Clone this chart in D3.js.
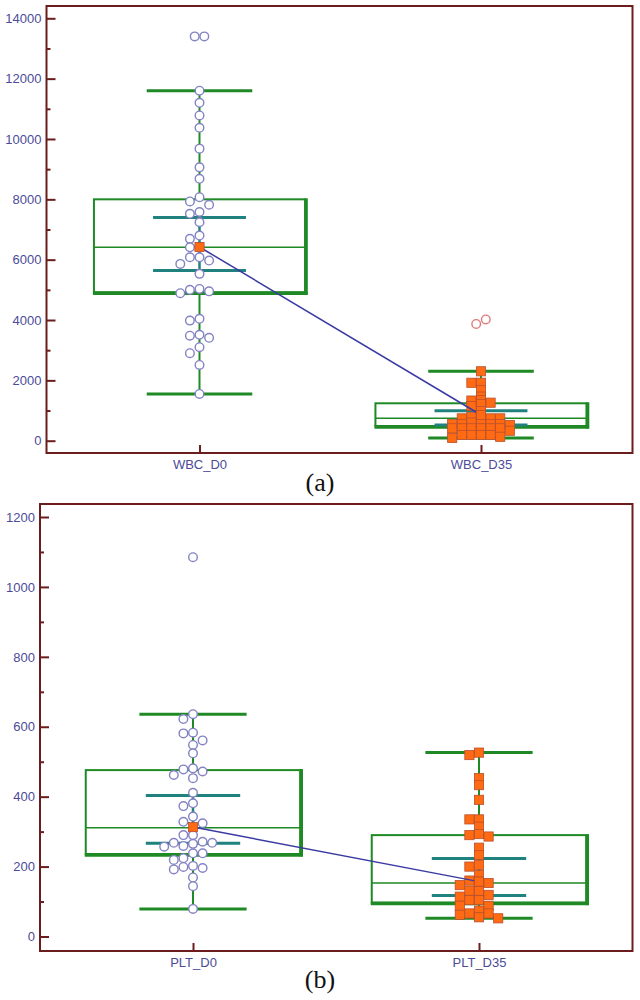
<!DOCTYPE html>
<html>
<head>
<meta charset="utf-8">
<script src="https://cdn.jsdelivr.net/npm/d3@7"></script>
<style>
  body { margin: 0; background: #fff; }
</style>
</head>
<body>
<div id="chart"></div>
<script>
// ---------- values ----------
// (a) white blood cells
var wbcCategories = ["WBC_D0", "WBC_D35"];
var wbcTicks = [0, 2000, 4000, 6000, 8000, 10000, 12000, 14000];
var wbcMinorTicks = [1000, 3000, 5000, 7000, 9000, 11000, 13000];
var wbcD0 = [11600, 11200, 10780, 10370, 9680, 9060, 8680, 8070, 7930, 7820, 7580, 7520,
             7240, 6800, 6690, 6410, 6410, 6080, 6080, 5970, 5860, 5530, 5030, 5000, 4950,
             4890, 4040, 3980, 3510, 3480, 3410, 3100, 2900, 2510, 1550];
var wbcD35 = [2300, 1920, 1920, 1680, 1460, 1350, 1330, 1260, 1220, 1150, 980, 800, 790,
              740, 740, 740, 600, 600, 550, 550, 550, 550, 520, 410, 410, 410, 410, 410,
              410, 330, 190, 190, 190, 190, 130, 90];
var wbcOutliersD0 = [13400, 13400];
var wbcOutliersD35 = [3870, 4020];
var wbcLow = [1550, 90];
var wbcQ1 = [4920, 487];
var wbcMedian = [6410, 742];
var wbcQ3 = [8000, 1240];
var wbcHigh = [11600, 2300];
var wbcMean = [6420, 852];
var wbcCiLow = [5640, 520];
var wbcCiHigh = [7400, 994];

// (b) platelets
var pltCategories = ["PLT_D0", "PLT_D35"];
var pltTicks = [0, 200, 400, 600, 800, 1000, 1200];
var pltMinorTicks = [100, 300, 500, 700, 900, 1100];
var pltD0 = [636, 622, 583, 581, 561, 548, 524, 481, 478, 472, 462, 453, 411, 381, 373, 343,
             328, 324, 290, 290, 271, 268, 268, 265, 259, 257, 238, 238, 224, 219, 202, 199,
             196, 192, 169, 144, 79];
var pltD35 = [526, 519, 453, 433, 391, 335, 335, 314, 293, 290, 286, 254, 233, 205, 200, 176,
              160, 157, 153, 147, 131, 131, 119, 114, 104, 104, 88, 88, 74, 66, 66, 62, 55, 52];
var pltOutliersD0 = [1085];
var pltOutliersD35 = [];
var pltLow = [79, 52];
var pltQ1 = [236, 97];
var pltMedian = [311, 153];
var pltQ3 = [476, 290];
var pltHigh = [636, 526];
var pltMean = [313, 157];
var pltCiLow = [267, 117];
var pltCiHigh = [403, 223];

// ---------- colours ----------
var frameColor = "#6b1c1c";
var labelColor = "#4b4b99";
var green = "#1f8a25";
var teal = "#20827e";
var navy = "#3a3aa3";
var lavender = "#8383c4";
var orange = "#ff6a12";
var orangeEdge = "#b9502e";
var pink = "#e07a7a";

var svg = d3.select("#chart")
  .append("svg")
    .attr("width", 640)
    .attr("height", 1000)
    .style("background", "#fff");

// dot-plot layout: push points sideways until they stop overlapping
// rowTol = how close two points may sit vertically before they count as one row
function swarm(values, y, d, rowTol) {
  var placed = [];
  values.map(function(v) { return {v: v, py: y(v)}; })
    .sort(function(a, b) { return a.py - b.py; })
    .forEach(function(p) {
      for (var k = 0; k < 40; k++) {
        var off = (k % 2 ? -1 : 1) * Math.ceil(k / 2);   // 0, -1, 1, -2, 2 ...
        var px = off * d;
        var hit = placed.some(function(q) {
          return Math.abs(q.px - px) < d * 0.92 && Math.abs(q.py - p.py) < rowTol;
        });
        if (!hit) { p.px = px; break; }
      }
      placed.push(p);
    });
  return placed;
}

function drawPanel(p) {
  var g = svg.append("g");
  var y = d3.scaleLinear().domain([0, p.ticks[p.ticks.length - 1]]).range(p.yRange);
  var x = d3.scalePoint().domain(p.categories).range(p.xRange).padding(0.5);
  var step = x.step();

  // frame
  g.append("rect")
    .attr("x", p.frame.l).attr("y", p.frame.t)
    .attr("width", p.frame.r - p.frame.l)
    .attr("height", p.frame.b - p.frame.t)
    .attr("fill", "none")
    .attr("stroke", frameColor)
    .attr("stroke-width", 2);

  // y axis, ticks point inward
  var yAxis = g.append("g")
    .attr("transform", "translate(" + p.frame.l + ",0)")
    .call(d3.axisLeft(y).tickValues(p.ticks).tickSize(-9).tickPadding(5)
            .tickFormat(d3.format("d")));
  var yMinor = g.append("g")
    .attr("transform", "translate(" + p.frame.l + ",0)")
    .call(d3.axisLeft(y).tickValues(p.minor).tickSize(-4).tickFormat(""));

  // x axis
  var xAxis = g.append("g")
    .attr("transform", "translate(0," + p.frame.b + ")")
    .call(d3.axisBottom(x).tickSize(-8).tickPadding(7));

  [yAxis, yMinor, xAxis].forEach(function(a) {
    a.select(".domain").remove();
    a.selectAll("line").attr("stroke", frameColor).attr("stroke-width", 2);
    a.selectAll("text")
      .attr("fill", labelColor)
      .style("font-family", "'Liberation Sans', Arial, sans-serif")
      .style("font-size", "13px");
  });

  var boxW = step * 0.75, capW = step * 0.375, ciW = step * 0.33;

  p.categories.forEach(function(c, i) {
    var cx = x(c);
    var bx = g.append("g");
    // whiskers
    bx.append("line").attr("x1", cx).attr("x2", cx)
      .attr("y1", y(p.low[i])).attr("y2", y(p.q1[i]))
      .attr("stroke", green).attr("stroke-width", 2);
    bx.append("line").attr("x1", cx).attr("x2", cx)
      .attr("y1", y(p.q3[i])).attr("y2", y(p.high[i]))
      .attr("stroke", green).attr("stroke-width", 2);
    [p.low[i], p.high[i]].forEach(function(v) {
      bx.append("line")
        .attr("x1", cx - capW / 2).attr("x2", cx + capW / 2)
        .attr("y1", y(v)).attr("y2", y(v))
        .attr("stroke", green).attr("stroke-width", 3);
    });
    // box with a heavier right / bottom edge
    var left = cx - boxW / 2, right = cx + boxW / 2;
    bx.append("rect")
      .attr("x", left).attr("y", y(p.q3[i]))
      .attr("width", boxW).attr("height", y(p.q1[i]) - y(p.q3[i]))
      .attr("fill", "none").attr("stroke", green).attr("stroke-width", 2);
    bx.append("line")
      .attr("x1", right + 1).attr("x2", right + 1)
      .attr("y1", y(p.q3[i]) - 1).attr("y2", y(p.q1[i]) + 2.5)
      .attr("stroke", green).attr("stroke-width", 3.5);
    bx.append("line")
      .attr("x1", left - 1).attr("x2", right + 2.5)
      .attr("y1", y(p.q1[i]) + 1).attr("y2", y(p.q1[i]) + 1)
      .attr("stroke", green).attr("stroke-width", 3.5);
    bx.append("line")
      .attr("x1", left).attr("x2", right)
      .attr("y1", y(p.median[i])).attr("y2", y(p.median[i]))
      .attr("stroke", green).attr("stroke-width", 1.6);
    // interval of the centre
    bx.append("line").attr("x1", cx).attr("x2", cx)
      .attr("y1", y(p.ciLow[i])).attr("y2", y(p.ciHigh[i]))
      .attr("stroke", teal).attr("stroke-width", 2.5);
    [p.ciLow[i], p.ciHigh[i]].forEach(function(v) {
      bx.append("line")
        .attr("x1", cx - ciW / 2).attr("x2", cx + ciW / 2)
        .attr("y1", y(v)).attr("y2", y(v))
        .attr("stroke", teal).attr("stroke-width", 3);
    });

    // observations
    if (i === 0) {
      var pts = swarm(p.values[i], y, 9.6, 8.2);
      g.selectAll(null).data(pts).enter().append("circle")
        .attr("cx", function(d) { return cx + d.px; })
        .attr("cy", function(d) { return d.py; })
        .attr("r", 4.3)
        .attr("fill", "#fff")
        .attr("stroke", lavender)
        .attr("stroke-width", 1.4);
    } else {
      var sq = swarm(p.values[i], y, 9.6, p.squareTol);
      g.selectAll(null).data(sq).enter().append("rect")
        .attr("x", function(d) { return cx + d.px - 4.6; })
        .attr("y", function(d) { return d.py - 4.6; })
        .attr("width", 9.2).attr("height", 9.2)
        .attr("fill", orange)
        .attr("stroke", orangeEdge)
        .attr("stroke-width", 0.8);
    }
    // outliers
    var outs = swarm(p.outliers[i], y, 9.6, 8.2);
    g.selectAll(null).data(outs).enter().append("circle")
      .attr("cx", function(d) { return cx + d.px + 4.8 * (outs.length > 1 ? 1 : 0); })
      .attr("cy", function(d) { return d.py; })
      .attr("r", 4.3)
      .attr("fill", "#fff")
      .attr("stroke", i === 0 ? lavender : pink)
      .attr("stroke-width", 1.4);
  });

  // line joining the means
  var line = d3.line()
    .x(function(d, i) { return x(p.categories[i]); })
    .y(function(d) { return y(d); });
  g.append("path")
    .attr("d", line(p.mean))
    .attr("fill", "none")
    .attr("stroke", navy)
    .attr("stroke-width", 1.5);

  g.selectAll(null).data(p.mean).enter().append("rect")
    .attr("x", function(d, i) { return x(p.categories[i]) - 4.6; })
    .attr("y", function(d) { return y(d) - 4.6; })
    .attr("width", 9.2).attr("height", 9.2)
    .attr("fill", orange)
    .attr("stroke", orangeEdge)
    .attr("stroke-width", 0.8);

  svg.append("text")
    .attr("x", 320).attr("y", p.labelY)
    .attr("text-anchor", "middle")
    .style("font-family", "'Liberation Serif', 'Times New Roman', serif")
    .style("font-size", "26px")
    .attr("fill", "#111")
    .text(p.label);
}

drawPanel({
  categories: wbcCategories, ticks: wbcTicks, minor: wbcMinorTicks,
  values: [wbcD0, wbcD35], outliers: [wbcOutliersD0, wbcOutliersD35],
  low: wbcLow, q1: wbcQ1, median: wbcMedian, q3: wbcQ3, high: wbcHigh,
  mean: wbcMean, ciLow: wbcCiLow, ciHigh: wbcCiHigh,
  frame: {l: 46.5, t: 6, r: 632.5, b: 453},
  yRange: [440.7, 18.3], xRange: [58.75, 621.75],
  squareTol: 3.2,
  label: "(a)", labelY: 491
});

drawPanel({
  categories: pltCategories, ticks: pltTicks, minor: pltMinorTicks,
  values: [pltD0, pltD35], outliers: [pltOutliersD0, pltOutliersD35],
  low: pltLow, q1: pltQ1, median: pltMedian, q3: pltQ3, high: pltHigh,
  mean: pltMean, ciLow: pltCiLow, ciHigh: pltCiHigh,
  frame: {l: 40, t: 504, r: 632.5, b: 951},
  yRange: [936.5, 517], xRange: [50, 622],
  squareTol: 6.5,
  label: "(b)", labelY: 988
});
</script>
</body>
</html>
